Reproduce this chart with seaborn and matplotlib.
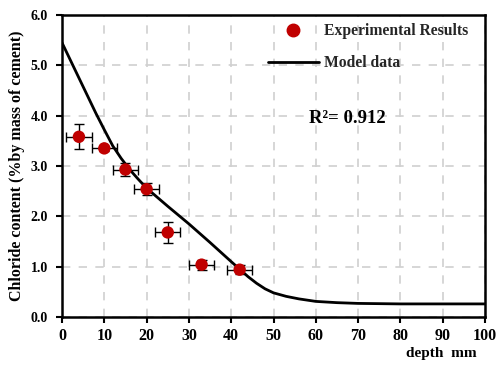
import matplotlib
matplotlib.use("Agg")
import matplotlib.pyplot as plt
from matplotlib.lines import Line2D
import seaborn as sns
import pandas as pd

# Experimental data
exp_depth = [4, 10, 15, 20, 25, 33, 42]
exp_cl = [3.58, 3.35, 2.93, 2.54, 1.68, 1.04, 0.94]
exp_xerr = [3.0, 3.0, 3.0, 3.0, 3.0, 3.0, 3.0]
exp_yerr = [0.25, 0.05, 0.12, 0.12, 0.21, 0.10, 0.09]

# Model curve
model_depth = [0, 2, 4, 6, 8, 10, 12, 14, 16, 18, 20, 25, 30, 35, 40, 42, 44, 46,
               48, 50, 53, 56, 60, 65, 70, 80, 90, 100]
model_cl = [5.45, 5.10, 4.75, 4.40, 4.05, 3.72, 3.40, 3.15, 2.93, 2.74, 2.56, 2.20,
            1.85, 1.48, 1.10, 0.95, 0.80, 0.67, 0.56, 0.48, 0.41, 0.36, 0.31,
            0.285, 0.27, 0.26, 0.26, 0.26]

x_ticks = [0, 10, 20, 30, 40, 50, 60, 70, 80, 90, 100]
y_ticks = [0.0, 1.0, 2.0, 3.0, 4.0, 5.0, 6.0]

sns.set_theme(style="white")
plt.rcParams['font.family'] = ['Liberation Serif', 'DejaVu Serif']
plt.rcParams['font.weight'] = 'bold'

fig = plt.figure(figsize=(4.99, 3.69), dpi=100)
ax = fig.add_axes([62/499, 1-317/369, (485-62)/499, (317-15)/369])

df_model = pd.DataFrame({"depth": model_depth, "cl": model_cl})
df_exp = pd.DataFrame({"depth": exp_depth, "cl": exp_cl})

sns.lineplot(data=df_model, x="depth", y="cl", ax=ax, color="black", linewidth=2.0,
             zorder=3)
ax.errorbar(exp_depth, exp_cl, xerr=exp_xerr, yerr=exp_yerr, fmt="none",
            ecolor="black", elinewidth=1.0, capsize=3.5, capthick=1.0, zorder=4)
sns.scatterplot(data=df_exp, x="depth", y="cl", ax=ax, color="#C00000", s=80,
                edgecolor="none", zorder=5)

ax.set_xlim(0, 100)
ax.set_ylim(0, 6)
ax.set_xticks(x_ticks)
ax.set_xticklabels([str(t) for t in x_ticks], fontsize=11.5, fontweight='bold')
ax.set_yticks(y_ticks)
ax.set_yticklabels([f"{t:.1f}" for t in y_ticks], fontsize=10, fontweight='bold')
ax.grid(True, color="#d0d0d0", linestyle=(0, (5, 5)), linewidth=1.2)
ax.set_axisbelow(True)
for s in ax.spines.values():
    s.set_color("black")
    s.set_linewidth(1.8)
ax.tick_params(axis="both", direction="out", length=4, width=1.5, color="black",
               bottom=True, left=True, labelcolor="black")
ax.tick_params(axis="y", pad=6)
ax.tick_params(axis="x", pad=4)

ax.set_xlabel("")
ax.set_ylabel("Chloride content (%by mass of cement)", fontsize=11.5,
              fontweight='bold', color="black", labelpad=4)
fig.text(441/499, 1 - 353/369, "depth  mm", ha="center", va="center", fontsize=11,
         fontweight='bold', color="black")

handles = [Line2D([], [], marker="o", color="#C00000", linestyle="none", markersize=9),
           Line2D([], [], color="black", linewidth=2.0)]
ax.legend(handles, ["Experimental Results", "Model data"], loc="upper right",
          bbox_to_anchor=((468 - 62) / 423, (317 - 23) / 302), frameon=False,
          prop={'family': 'Liberation Serif', 'weight': 'bold', 'size': 11.25},
          handlelength=3.3, handletextpad=0.3, labelspacing=1.05, borderpad=0,
          borderaxespad=0)

ax.text(67.5, 3.94, "R²= 0.912", fontsize=13.5, fontweight='bold',
        ha="center", va="center", color="black")

fig.savefig("out.png", dpi=100)
